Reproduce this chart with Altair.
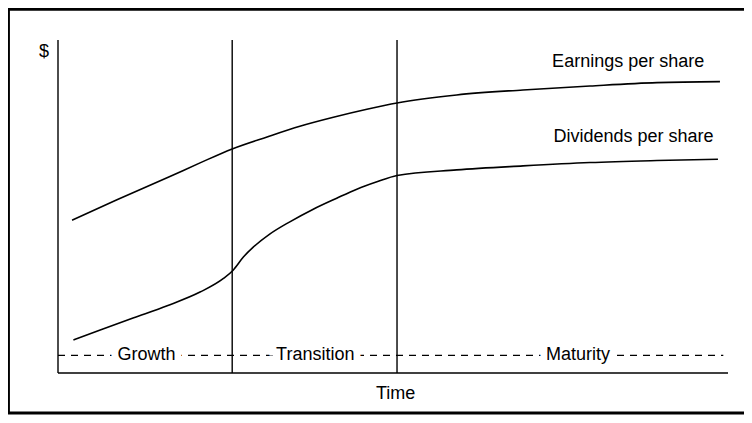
import altair as alt
import pandas as pd

# ---- data (time units 0-100, $ units 0-100) ----
eps_t = [2.1, 8.8, 16.7, 21.2, 26.0, 31.2, 36.1, 41.1, 46.1, 50.6, 59.5, 69.4, 79.4, 89.4, 98.8]
eps_v = [45.9, 52.0, 59.0, 63.1, 67.3, 70.9, 74.1, 76.8, 79.2, 81.1, 83.5, 85.0, 86.2, 87.2, 87.5]

dps_t = [2.3, 6.3, 11.2, 16.3, 21.2, 24.7, 26.1, 27.7, 29.1, 31.6, 34.6, 38.1, 41.6, 44.6,
         47.6, 50.6, 59.5, 69.4, 79.4, 89.4, 98.5]
dps_v = [9.9, 12.9, 16.5, 20.2, 24.3, 28.4, 30.8, 34.9, 37.7, 41.7, 45.4, 49.2, 52.5, 55.2,
         57.4, 59.3, 61.0, 62.2, 63.2, 63.8, 64.2]

series_names = ["Earnings per share", "Dividends per share"]
series_label_t = [85.1, 85.9]
series_label_v = [93.4, 70.9]

phases = ["Growth", "Transition", "Maturity"]
phase_start = [0, 26.0, 50.6]
phase_label_t = [13.2, 38.4, 77.6]
phase_level = 5.3
phase_line_end = 99.3

axis_titles = ["$", "Time"]
axis_title_t = [-2.1, 50.4]
axis_title_v = [96.4, -6.3]

T_MIN, T_MAX = 0, 100
V_MIN, V_MAX = 0, 100

FONT = "Liberation Sans"

# ---- tables ----
lines_df = pd.concat([
    pd.DataFrame({"series": series_names[0], "t": eps_t, "v": eps_v}),
    pd.DataFrame({"series": series_names[1], "t": dps_t, "v": dps_v}),
])
phase_df = pd.DataFrame({"phase": phases, "start": phase_start, "label_t": phase_label_t,
                         "level": phase_level, "v0": V_MIN, "v1": V_MAX})
hlines_df = pd.DataFrame({"kind": ["axis", "phases"], "t0": [T_MIN, T_MIN],
                          "t1": [T_MAX, phase_line_end], "v": [V_MIN, phase_level]})
series_lbl_df = pd.DataFrame({"name": series_names, "t": series_label_t, "v": series_label_v})
axis_lbl_df = pd.DataFrame({"name": axis_titles, "t": axis_title_t, "v": axis_title_v})

# decorative frame around the whole figure (in the same units, outside the plot)
frame_df = pd.DataFrame({
    "side": ["left", "top", "bottom"],
    "t0": [-7.4, -7.5, -7.5], "t1": [-7.4, 102.5, 102.5],
    "v0": [-12.3, 109.2, -12.0], "v1": [109.6, 109.2, -12.0],
})

xs = alt.Scale(domain=[T_MIN, T_MAX], nice=False, zero=False)
ys = alt.Scale(domain=[V_MIN, V_MAX], nice=False, zero=False)

def X(f):
    return alt.X(f, type="quantitative", scale=xs, axis=None)

def Y(f):
    return alt.Y(f, type="quantitative", scale=ys, axis=None)

curves = alt.Chart(lines_df).mark_line(color="black", strokeWidth=1.6, interpolate="monotone").encode(
    x=X("t"), y=Y("v"), detail="series:N",
)

verticals = alt.Chart(phase_df).mark_rule(color="black", strokeWidth=1.4).encode(
    x=X("start"), y=Y("v0"), y2="v1:Q",
)

baseline = alt.Chart(hlines_df).transform_filter(alt.datum.kind == "axis").mark_rule(
    color="black", strokeWidth=1.4).encode(x=X("t0"), x2="t1:Q", y=Y("v"))

dashed = alt.Chart(hlines_df).transform_filter(alt.datum.kind == "phases").mark_rule(
    color="black", strokeWidth=1.1, strokeDash=[7, 6]).encode(x=X("t0"), x2="t1:Q", y=Y("v"))

phase_halo = alt.Chart(phase_df).mark_text(
    font=FONT, fontSize=18, baseline="middle", align="center",
    color="white", stroke="white", strokeWidth=14,
).encode(x=X("label_t"), y=Y("level"), text="phase:N")

phase_text = alt.Chart(phase_df).mark_text(
    font=FONT, fontSize=18, baseline="middle", align="center", color="black",
).encode(x=X("label_t"), y=Y("level"), text="phase:N")

series_text = alt.Chart(series_lbl_df).mark_text(
    font=FONT, fontSize=18, baseline="middle", align="center", color="black",
).encode(x=X("t"), y=Y("v"), text="name:N")

axis_text = alt.Chart(axis_lbl_df).mark_text(
    font=FONT, fontSize=18, baseline="middle", align="center", color="black",
).encode(x=X("t"), y=Y("v"), text="name:N")

frame = alt.Chart(frame_df).mark_rule(color="black", strokeWidth=3).encode(
    x=X("t0"), x2="t1:Q", y=Y("v0"), y2="v1:Q",
)

chart = alt.layer(
    frame, dashed, phase_halo, verticals, baseline, curves,
    phase_text, series_text, axis_text,
).properties(
    width=670, height=333,
    autosize=alt.AutoSizeParams(type="none"),
    padding={"left": 50, "top": 32, "right": 16, "bottom": 42},
    background="white",
).configure_view(stroke=None)

chart.save("out.html", embed_options={"renderer": "svg", "actions": False})
